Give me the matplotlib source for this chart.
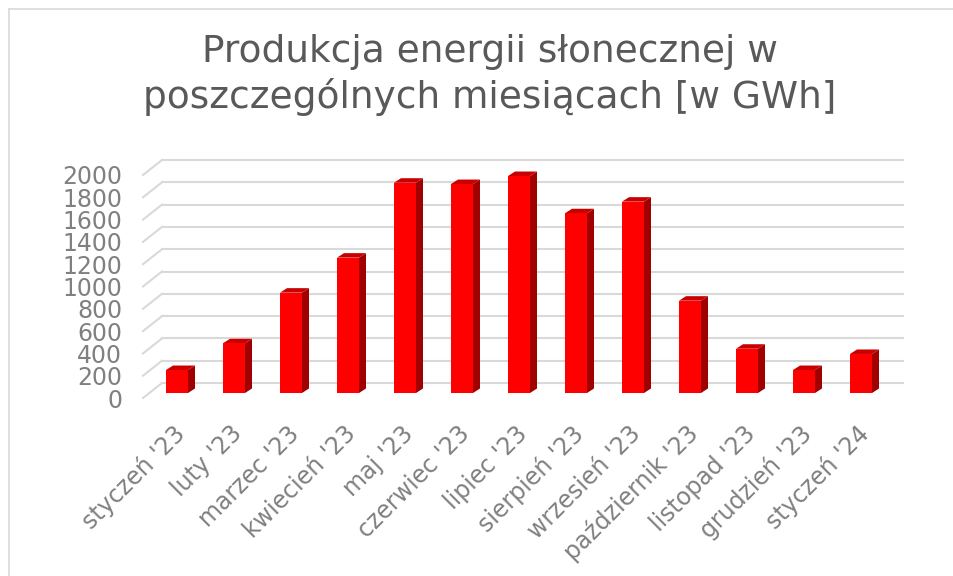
import matplotlib
matplotlib.use('Agg')
import matplotlib.pyplot as plt
from matplotlib.patches import Polygon, Rectangle
from matplotlib.lines import Line2D
from matplotlib.transforms import ScaledTranslation

# dane: produkcja energii słonecznej [GWh]
months = ["styczeń '23", "luty '23", "marzec '23", "kwiecień '23", "maj '23",
          "czerwiec '23", "lipiec '23", "sierpień '23", "wrzesień '23",
          "październik '23", "listopad '23", "grudzień '23", "styczeń '24"]
values = [206, 446, 900, 1214, 1886, 1874, 1946, 1612, 1716, 828, 397, 206, 350]
yticks = list(range(0, 2001, 200))

W, H = 954, 576
fig = plt.figure(figsize=(W / 100, H / 100), dpi=100)
fig.patch.set_facecolor('white')

# ramka wykresu (widoczna tylko z lewej i u góry)
fig.add_artist(Line2D([9 / W, 9 / W], [0, 1 - 9 / H], color='#d9d9d9', lw=1.2))
fig.add_artist(Line2D([9 / W, 1], [1 - 9 / H, 1 - 9 / H], color='#d9d9d9', lw=1.2))

# osie - przednia płaszczyzna wykresu 3D
ax_l, ax_r, ax_b, ax_t = 143, 884, 398, 175
ax = fig.add_axes([ax_l / W, 1 - ax_b / H, (ax_r - ax_l) / W, (ax_b - ax_t) / H])
n = len(months)
ax.set_xlim(-0.5, n - 0.5)
ax.set_ylim(0, 2000)
for s in ax.spines.values():
    s.set_visible(False)
ax.patch.set_alpha(0)

# ile jednostek danych na piksel
ux = n / (ax_r - ax_l)
uy = 2000 / (ax_b - ax_t)

# siatka: tylna ściana + boczna ściana
wall_dx, wall_dy = 19 * ux, 15 * uy
grid_c = '#d9d9d9'
for v in yticks:
    ax.plot([-0.5 + wall_dx, n - 0.5 + wall_dx], [v + wall_dy] * 2,
            color=grid_c, lw=1.5, clip_on=False, zorder=1)
    ax.plot([-0.5, -0.5 + wall_dx], [v, v + wall_dy],
            color=grid_c, lw=1.5, clip_on=False, zorder=1)

# słupki 3D
bw = 22 * ux
fx, fy = 5.5 * ux, 5 * uy
dx, dy = 7 * ux, 4.5 * uy
for i, v in enumerate(values):
    xl = i + fx - bw / 2
    xr = xl + bw
    ax.add_patch(Polygon([(xr, fy), (xr + dx, fy + dy), (xr + dx, fy + v + dy), (xr, fy + v)],
                         closed=True, fc='#a00000', ec='none', clip_on=False, zorder=3))
    ax.add_patch(Polygon([(xl, fy + v), (xr, fy + v), (xr + dx, fy + v + dy), (xl + dx, fy + v + dy)],
                         closed=True, fc='#c80000', ec='none', clip_on=False, zorder=3))
    ax.add_patch(Rectangle((xl, fy), bw, v, fc='#ff0000', ec='none', clip_on=False, zorder=4))

# etykiety osi
ax.set_yticks(yticks)
ax.set_yticklabels([str(v) for v in yticks])
ax.tick_params(axis='y', length=0, pad=15, labelsize=17, labelcolor='#808080')
ax.set_xticks(range(n))
ax.set_xticklabels(months, rotation=45, ha='right', va='center', rotation_mode='anchor')
ax.tick_params(axis='x', length=0, pad=23, labelsize=17, labelcolor='#808080')
shift = ScaledTranslation(10 / 100, 0, fig.dpi_scale_trans)
for lab in ax.get_xticklabels():
    lab.set_transform(lab.get_transform() + shift)

fig.text(490 / W, 1 - 34 / H, "Produkcja energii słonecznej w\nposzczególnych miesiącach [w GWh]",
         ha='center', va='top', fontsize=27, color='#595959', linespacing=1.27)

fig.savefig('out.png', dpi=100, facecolor='white')
